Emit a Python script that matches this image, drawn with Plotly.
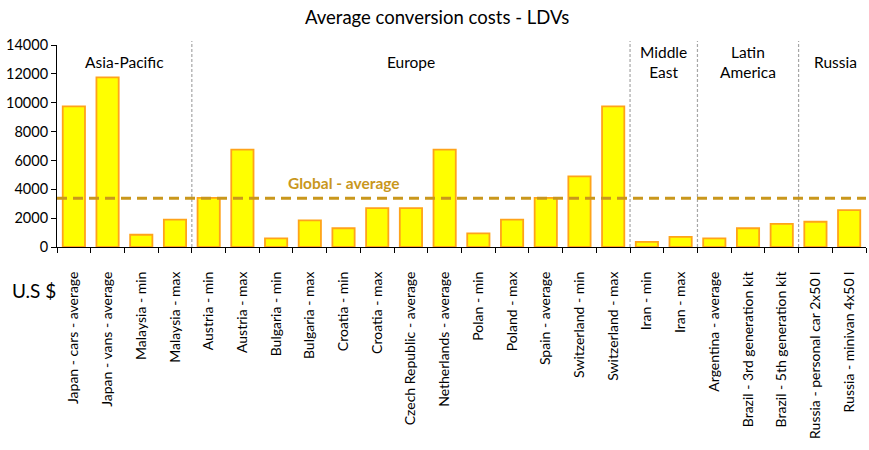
import plotly.graph_objects as go

categories = [
    "Japan - cars - average", "Japan - vans - average", "Malaysia - min", "Malaysia - max",
    "Austria - min", "Austria - max", "Bulgaria - min", "Bulgaria - max",
    "Croatia - min", "Croatia - max", "Czech Republic - average", "Netherlands - average",
    "Polan - min", "Poland - max", "Spain - average", "Switzerland - min",
    "Switzerland - max", "Iran - min", "Iran - max", "Argentina - average",
    "Brazil - 3rd generation kit", "Brazil - 5th generation kit",
    "Russia - personal car 2x50 l", "Russia - minivan 4x50 l",
]
values = [9750, 11750, 850, 1900, 3400, 6750, 600, 1850, 1300, 2700, 2700, 6750,
          950, 1900, 3400, 4900, 9750, 350, 700, 600, 1300, 1600, 1750, 2550]
global_average = 3375
regions = ["Asia-Pacific", "Europe", "Middle<br>East", "Latin<br>America", "Russia"]
region_centers = [1.5, 10.0, 17.5, 20.0, 22.6]
region_boundaries = [3.5, 16.5, 18.5, 21.5]
y_ticks = [0, 2000, 4000, 6000, 8000, 10000, 12000, 14000]
y_tick_text = [str(v) for v in y_ticks]

FONT = "Lato, 'Open Sans', sans-serif"
GOLD = "#C9971C"

fig = go.Figure()
fig.add_trace(go.Bar(
    x=categories, y=values,
    marker=dict(color="#FFFF00", line=dict(color="#FFA31A", width=1.8)),
    width=0.66, showlegend=False,
))

shapes = []
for b in region_boundaries:
    shapes.append(dict(type="line", xref="x", yref="paper", x0=b, x1=b, y0=0, y1=1.02,
                       line=dict(color="#A6A6A6", width=1.2, dash="3px,2px")))
shapes.append(dict(type="line", xref="paper", yref="y", x0=0, x1=1,
                   y0=global_average, y1=global_average,
                   line=dict(color=GOLD, width=3, dash="10px,6px")))

annotations = []
for name, c in zip(regions, region_centers):
    annotations.append(dict(x=c, y=12850, xref="x", yref="y", text=name, showarrow=False,
                            font=dict(family=FONT, size=15.5, color="#000000"),
                            yanchor="middle", xanchor="center"))
annotations.append(dict(x=8.0, y=4450, xref="x", yref="y", text="<b>Global - average</b>",
                        showarrow=False, font=dict(family=FONT, size=15.5, color=GOLD)))
annotations.append(dict(xref="paper", yref="paper", x=-47 / 809, y=-(290 - 247) / 202,
                        xanchor="left", yanchor="middle", text="U.S $", showarrow=False,
                        font=dict(family=FONT, size=19, color="#000000")))

fig.update_layout(
    width=869, height=450,
    margin=dict(l=57, r=3, t=45, b=203),
    paper_bgcolor="white", plot_bgcolor="white",
    title=dict(text="Average conversion costs - LDVs", x=0.503, xanchor="center",
               y=1 - 18 / 450, yanchor="middle",
               font=dict(family=FONT, size=18.5, color="#000000")),
    font=dict(family=FONT, size=14, color="#000000"),
    xaxis=dict(
        type="category", tickangle=-90, range=[-0.5, len(categories) - 0.5],
        tickson="boundaries",
        showline=True, linecolor="#000000", linewidth=1,
        ticks="outside", ticklen=5, tickcolor="#000000", showgrid=False,
        zeroline=False, ticklabelstandoff=18, tickfont=dict(size=14),
    ),
    yaxis=dict(
        range=[0, 14000], tickvals=y_ticks, ticktext=y_tick_text, showline=True,
        linecolor="#000000", linewidth=1, ticks="outside", ticklen=5,
        tickcolor="#000000", showgrid=False, zeroline=False, tickfont=dict(size=14.5),
    ),
    shapes=shapes, annotations=annotations, bargap=0.34,
)
fig.write_html("out.html")
